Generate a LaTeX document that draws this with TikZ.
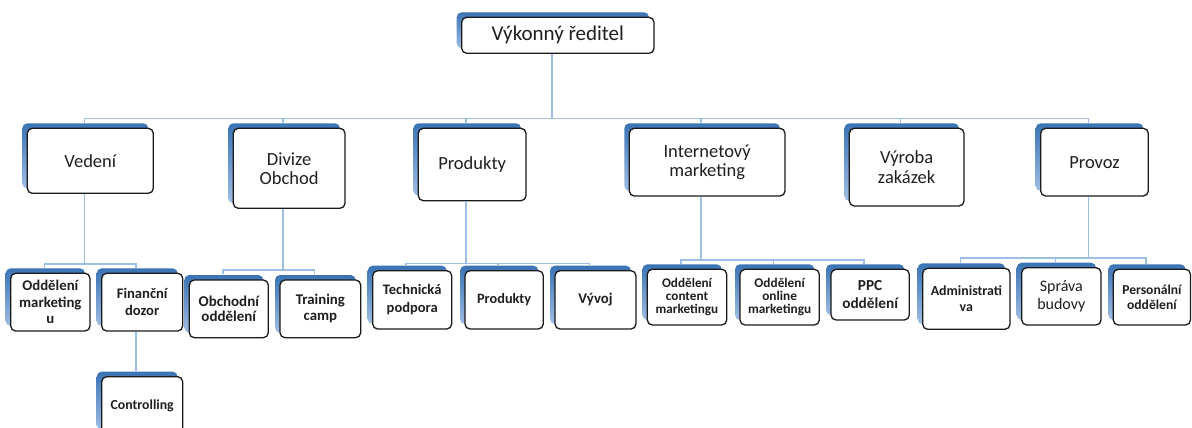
\documentclass[tikz,border=0pt]{standalone}
\usepackage{fontspec}
\setmainfont{Carlito}
\usetikzlibrary{shadows,calc}
\definecolor{connc}{HTML}{9DBFE6}
\definecolor{shtop}{HTML}{3A73B4}
\definecolor{shbot}{HTML}{9FBDE2}
\definecolor{bord}{HTML}{1A1A1A}
\tikzset{
  orgbox/.style={draw=bord, line width=1.3pt, rounded corners=5pt, fill=white,
    inner sep=0pt, align=center, text=black!88,
    general shadow={shadow xshift=-5pt, shadow yshift=5pt, top color=shtop, bottom color=shbot, draw=none}},
  conn/.style={draw=connc, line width=1.6pt},
}
\newcommand\ob[7]{%
  \node[orgbox, font={#6}, minimum width={(#4-#2)*1pt}, minimum height={(#5-#3)*1pt}]
    (#1) at ({(#2+#4)/2},{(#3+#5)/2}) {#7};}
\newcommand\fs[2]{\fontsize{#1}{#2}\selectfont}
\begin{document}
\begin{tikzpicture}[x=1pt,y=-1pt]
\useasboundingbox (0,0) rectangle (1192,428);
% level 0
\ob{ceo}{461.7}{17.3}{654}{53.3}{\fs{21}{22}}{Výkonný ředitel}
% level 1
\ob{vedeni}{27.3}{128.3}{153.3}{193.3}{\fs{18.5}{19}}{Vedení}
\ob{divize}{233.3}{128.3}{345}{208.3}{\fs{18.5}{19}}{Divize\\Obchod}
\ob{produkty}{418.3}{128.3}{526}{200.7}{\fs{18.5}{19}}{Produkty}
\ob{internet}{629.3}{128.3}{785}{196}{\fs{18.5}{19}}{Internetový\\marketing}
\ob{vyroba}{849.3}{128.3}{964}{206}{\fs{18.5}{20}}{Výroba\\zakázek}
\ob{provoz}{1040.7}{128.3}{1148.3}{196}{\fs{18.5}{19}}{Provoz}
% level 2
\ob{odm}{10.7}{273.3}{90}{331}{\bfseries\fs{14.8}{16.7}}{Oddělení\\marketing\\u}
\ob{fin}{101.7}{273.3}{182.7}{331}{\bfseries\fs{14.6}{17.3}}{Finanční\\dozor}
\ob{ctrl}{101.7}{376.7}{182.7}{435}{\bfseries\fs{13.8}{15}}{Controlling}
\ob{obo}{189.3}{280}{268.3}{337.7}{\bfseries\fs{15}{15.7}}{Obchodní\\oddělení}
\ob{tc}{280}{280}{360.7}{337.7}{\bfseries\fs{14.8}{16}}{Training\\camp}
\ob{tp}{372.7}{270.7}{451.7}{329}{\bfseries\fs{14.5}{17.7}}{Technická\\podpora}
\ob{prod2}{465}{270.7}{543.3}{329}{\bfseries\fs{14.3}{16}}{Produkty}
\ob{vyvoj}{555}{270.7}{636}{329}{\bfseries\fs{14.8}{16}}{Vývoj}
\ob{ocm}{647.3}{269.3}{726.7}{325}{\bfseries\fs{13.2}{12.8}}{Oddělení\\content\\marketingu}
\ob{oom}{740}{269.3}{819.3}{325}{\bfseries\fs{13.3}{12.8}}{Oddělení\\online\\marketingu}
\ob{ppc}{831}{269.3}{909.3}{320}{\bfseries\fs{15.3}{17.7}}{PPC\\oddělení}
\ob{adm}{922.7}{268.3}{1010}{329.3}{\bfseries\fs{13.9}{15.7}}{Administrati\\va}
\ob{spr}{1021.7}{267.7}{1101}{325}{\fs{16}{18.3}}{Správa\\budovy}
\ob{pers}{1113.3}{269.3}{1190.5}{325}{\bfseries\fs{13.6}{14.3}}{Personální\\oddělení}
% connectors
\coordinate (b0) at ($(ceo.south)+(-6,64.7)$);
\draw[conn] ($(ceo.south)+(-6,0)$) -- (b0);
\foreach \c in {vedeni,divize,produkty,internet,vyroba,provoz}
  \draw[conn] (b0) -| ($(\c.north)+(-6,-5)$);
\coordinate (bv) at ($(vedeni.south)+(-6,70)$);
\draw[conn] ($(vedeni.south)+(-6,0)$) -- (bv);
\foreach \c in {odm,fin} \draw[conn] (bv) -| ($(\c.north)+(-6,-5)$);
\draw[conn] ($(fin.south)+(-6,0)$) -- ($(ctrl.north)+(-6,-5)$);
\coordinate (bd) at ($(divize.south)+(-6,61)$);
\draw[conn] ($(divize.south)+(-6,0)$) -- (bd);
\foreach \c in {obo,tc} \draw[conn] (bd) -| ($(\c.north)+(-6,-5)$);
\coordinate (bp) at ($(produkty.south)+(-6,62)$);
\draw[conn] ($(produkty.south)+(-6,0)$) -- (bp);
\foreach \c in {tp,prod2,vyvoj} \draw[conn] (bp) -| ($(\c.north)+(-6,-5)$);
\coordinate (bi) at ($(internet.south)+(-6,63.3)$);
\draw[conn] ($(internet.south)+(-6,0)$) -- (bi);
\foreach \c in {ocm,oom,ppc} \draw[conn] (bi) -| ($(\c.north)+(-6,-5)$);
\coordinate (bpr) at ($(provoz.south)+(-6,61.3)$);
\draw[conn] ($(provoz.south)+(-6,0)$) -- (bpr);
\foreach \c in {adm,spr,pers} \draw[conn] (bpr) -| ($(\c.north)+(-6,-5)$);
\end{tikzpicture}
\end{document}
